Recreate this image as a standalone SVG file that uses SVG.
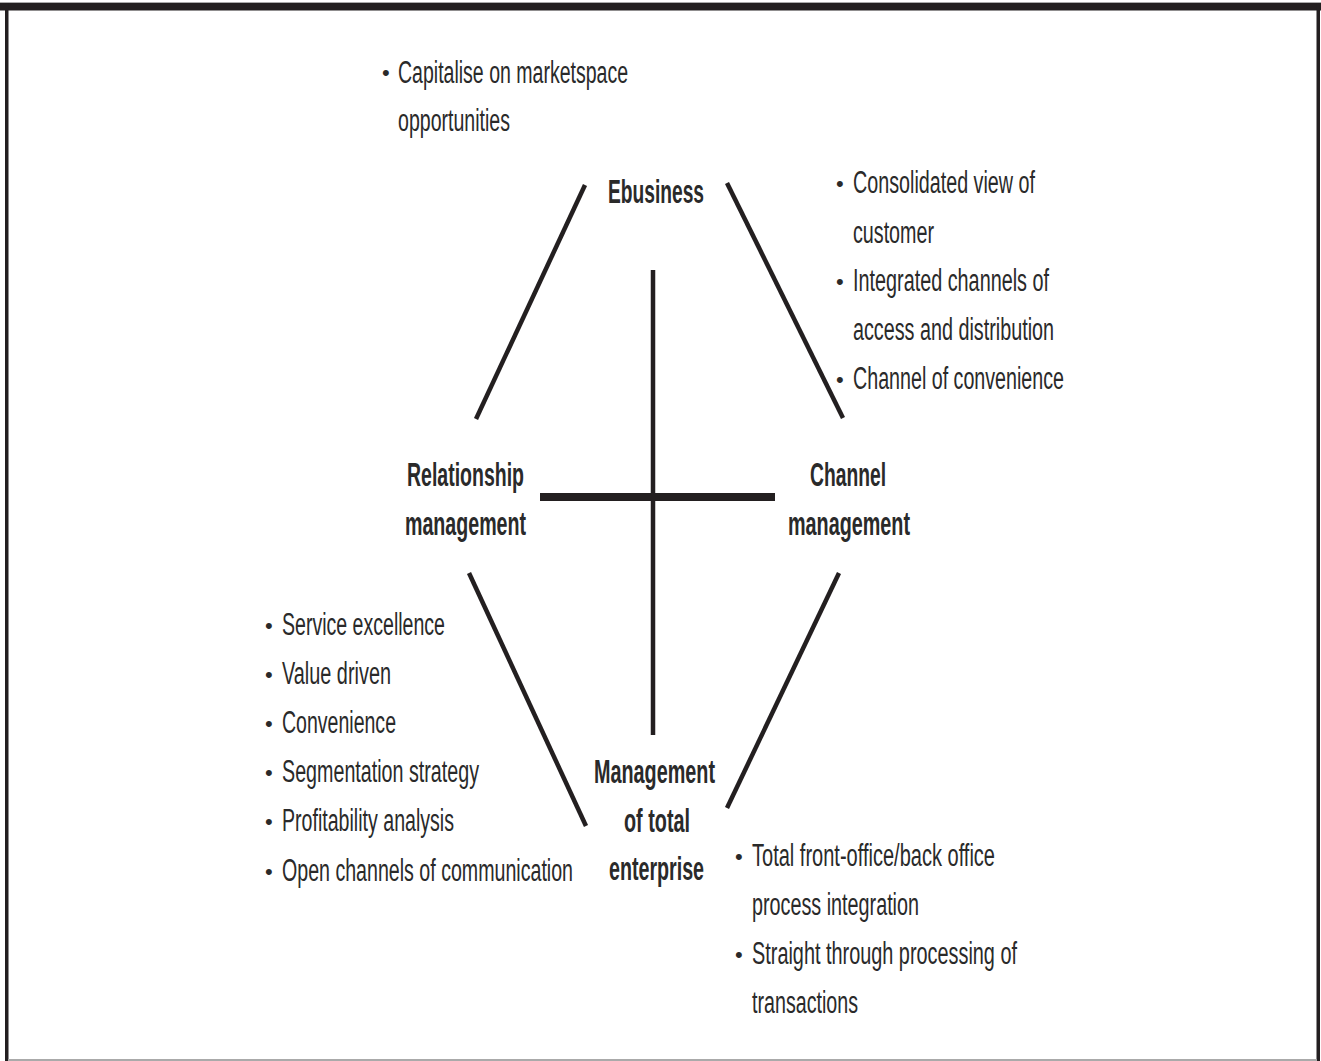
<svg xmlns="http://www.w3.org/2000/svg" width="1321" height="1061" viewBox="0 0 1321 1061">
<style>
.t{font-family:"Liberation Sans",Arial,sans-serif;font-size:31px;fill:#2a2a2a;}
.b{font-family:"Liberation Sans",Arial,sans-serif;font-size:34px;font-weight:bold;fill:#2a2a2a;}
.bl{font-family:"Liberation Sans",Arial,sans-serif;font-size:22px;fill:#2a2a2a;}
.ln{stroke:#231f20;stroke-width:4.5;fill:none;stroke-linecap:butt;}
</style>
<rect x="0" y="0" width="1321" height="1061" fill="#ffffff"/>
<g id="frame">
<rect x="0" y="2" width="1321" height="1.5" fill="#aaaaaa"/>
<rect x="0" y="3" width="1321" height="7.5" fill="#231f20"/>
<rect x="5" y="3" width="3.5" height="1058" fill="#231f20"/>
<rect x="1316.5" y="3" width="3.5" height="1058" fill="#231f20"/>
<rect x="8" y="1059" width="1309" height="2" fill="#aaaaaa"/>
</g>
<g id="connectors">
<line class="ln" x1="585" y1="185" x2="476" y2="419"/>
<line class="ln" x1="727" y1="183" x2="843" y2="418"/>
<line class="ln" x1="469" y1="573" x2="586" y2="826"/>
<line class="ln" x1="839" y1="573" x2="727" y2="808"/>
<line class="ln" x1="653" y1="270" x2="653" y2="735"/>
<line x1="540" y1="497" x2="775" y2="497" stroke="#231f20" stroke-width="8"/>
</g>
<g id="ebusiness">
<text class="b" x="608" y="203" textLength="96" lengthAdjust="spacingAndGlyphs">Ebusiness</text>
</g>
<g id="relationship">
<text class="b" x="407" y="486" textLength="117" lengthAdjust="spacingAndGlyphs">Relationship</text>
<text class="b" x="405" y="535" textLength="121" lengthAdjust="spacingAndGlyphs">management</text>
</g>
<g id="channel">
<text class="b" x="810" y="486" textLength="76" lengthAdjust="spacingAndGlyphs">Channel</text>
<text class="b" x="788" y="535" textLength="122" lengthAdjust="spacingAndGlyphs">management</text>
</g>
<g id="enterprise">
<text class="b" x="594" y="783" textLength="121" lengthAdjust="spacingAndGlyphs">Management</text>
<text class="b" x="624" y="832" textLength="66" lengthAdjust="spacingAndGlyphs">of total</text>
<text class="b" x="609" y="880" textLength="95" lengthAdjust="spacingAndGlyphs">enterprise</text>
</g>
<g id="notes-ebusiness">
<text class="bl" x="382" y="80">•</text>
<text class="t" x="398" y="83" textLength="230" lengthAdjust="spacingAndGlyphs">Capitalise on marketspace</text>
<text class="t" x="398" y="131" textLength="112" lengthAdjust="spacingAndGlyphs">opportunities</text>
</g>
<g id="notes-channel">
<text class="bl" x="836" y="191">•</text>
<text class="t" x="853" y="193" textLength="182" lengthAdjust="spacingAndGlyphs">Consolidated view of</text>
<text class="t" x="853" y="243" textLength="81" lengthAdjust="spacingAndGlyphs">customer</text>
<text class="bl" x="836" y="289">•</text>
<text class="t" x="853" y="291" textLength="196" lengthAdjust="spacingAndGlyphs">Integrated channels of</text>
<text class="t" x="853" y="340" textLength="201" lengthAdjust="spacingAndGlyphs">access and distribution</text>
<text class="bl" x="836" y="387">•</text>
<text class="t" x="853" y="389" textLength="211" lengthAdjust="spacingAndGlyphs">Channel of convenience</text>
</g>
<g id="notes-relationship">
<text class="bl" x="265" y="633">•</text>
<text class="t" x="282" y="635" textLength="163" lengthAdjust="spacingAndGlyphs">Service excellence</text>
<text class="bl" x="265" y="682">•</text>
<text class="t" x="282" y="684" textLength="109" lengthAdjust="spacingAndGlyphs">Value driven</text>
<text class="bl" x="265" y="731">•</text>
<text class="t" x="282" y="733" textLength="114" lengthAdjust="spacingAndGlyphs">Convenience</text>
<text class="bl" x="265" y="780">•</text>
<text class="t" x="282" y="782" textLength="197" lengthAdjust="spacingAndGlyphs">Segmentation strategy</text>
<text class="bl" x="265" y="829">•</text>
<text class="t" x="282" y="831" textLength="172" lengthAdjust="spacingAndGlyphs">Profitability analysis</text>
<text class="bl" x="265" y="879">•</text>
<text class="t" x="282" y="881" textLength="291" lengthAdjust="spacingAndGlyphs">Open channels of communication</text>
</g>
<g id="notes-enterprise">
<text class="bl" x="735" y="864">•</text>
<text class="t" x="752" y="866" textLength="243" lengthAdjust="spacingAndGlyphs">Total front-office/back office</text>
<text class="t" x="752" y="915" textLength="167" lengthAdjust="spacingAndGlyphs">process integration</text>
<text class="bl" x="735" y="962">•</text>
<text class="t" x="752" y="964" textLength="265" lengthAdjust="spacingAndGlyphs">Straight through processing of</text>
<text class="t" x="752" y="1013" textLength="106" lengthAdjust="spacingAndGlyphs">transactions</text>
</g>
</svg>
